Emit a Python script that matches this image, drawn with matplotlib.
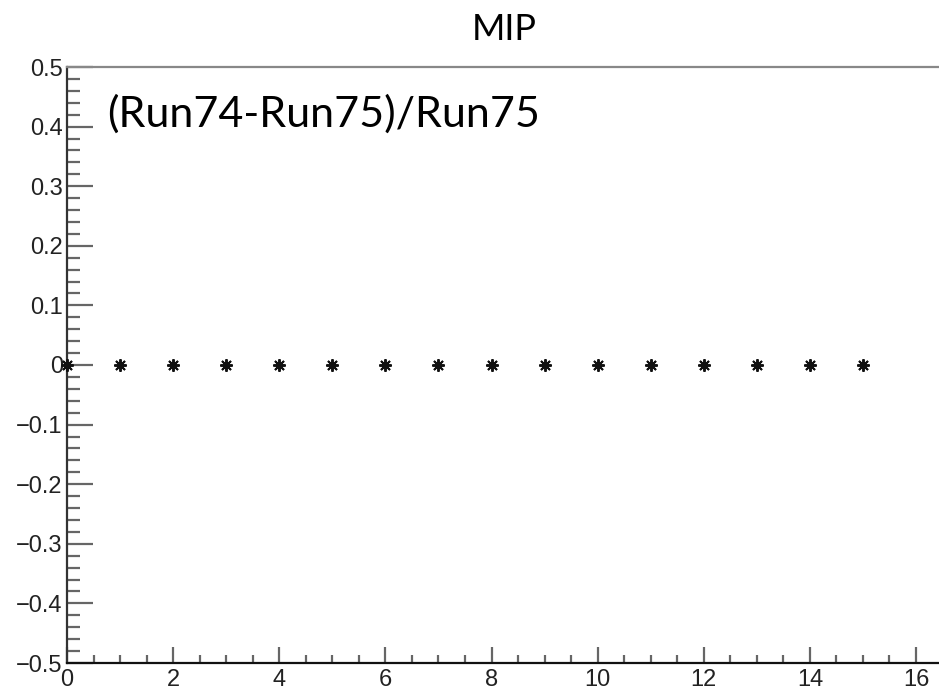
import matplotlib
matplotlib.use("Agg")
import matplotlib.pyplot as plt
from matplotlib.ticker import MultipleLocator
import numpy as np

# channel index and relative difference (Run74-Run75)/Run75
channels = np.arange(16)
rel_diff = [0.0, 0.0, 0.0, 0.0, 0.0, 0.0, 0.0, 0.0,
            0.0, 0.0, 0.0, 0.0, 0.0, 0.0, 0.0, 0.0]

plt.rcParams['font.family'] = ['Liberation Sans', 'DejaVu Sans']

W, H = 939, 692
fig = plt.figure(figsize=(W / 100, H / 100), dpi=100)

# axes: left spine at x=67px, bottom at y=663px, top at y=67px, right side cut off
left, bottom, top = 67, 663, 67
x_per_unit = (916 - 67) / 16.0
xmax = 17.0
ax = fig.add_axes([left / W, 1 - bottom / H, xmax * x_per_unit / W, (bottom - top) / H])

ax.plot(channels, rel_diff, linestyle='none', marker=(8, 2, 0), markersize=9,
        markeredgewidth=1.4, color='#111111', clip_on=False, zorder=5)

ax.set_xlim(0, xmax)
ax.set_ylim(-0.5, 0.5)

ax.xaxis.set_major_locator(MultipleLocator(2))
ax.xaxis.set_minor_locator(MultipleLocator(0.5))
ax.yaxis.set_major_locator(MultipleLocator(0.1))
ax.yaxis.set_minor_locator(MultipleLocator(0.02))

def fmt(v, pos):
    if abs(v) < 1e-9:
        return "0"
    s = "%g" % v
    return s.replace("-", "\u2212")

ax.yaxis.set_major_formatter(plt.FuncFormatter(fmt))
ax.xaxis.set_major_formatter(plt.FuncFormatter(fmt))

tick_col = '#666666'
ax.tick_params(axis='y', which='major', direction='in', length=19, width=1.6,
               color=tick_col, pad=3, labelsize=17, labelcolor='#222222')
ax.tick_params(axis='y', which='minor', direction='in', length=9.5, width=1.6, color=tick_col)
ax.tick_params(axis='x', which='major', direction='in', length=11.5, width=1.6,
               color=tick_col, pad=4, labelsize=17, labelcolor='#222222')
ax.tick_params(axis='x', which='minor', direction='in', length=5.5, width=1.6, color=tick_col)

ax.spines['left'].set_color('#333333')
ax.spines['left'].set_linewidth(1.6)
ax.spines['bottom'].set_color('#111111')
ax.spines['bottom'].set_linewidth(1.6)
ax.spines['top'].set_color('#888888')
ax.spines['top'].set_linewidth(1.6)
ax.spines['right'].set_visible(False)

fig.text(504 / W, 1 - 40 / H, "MIP", family='Lato', fontsize=26,
         ha='center', va='baseline', color='black')
fig.text(107 / W, 1 - 127 / H, "(Run74-Run75)/Run75", family='Lato', fontsize=31,
         ha='left', va='baseline', color='black')

fig.savefig("out.png", dpi=100)
